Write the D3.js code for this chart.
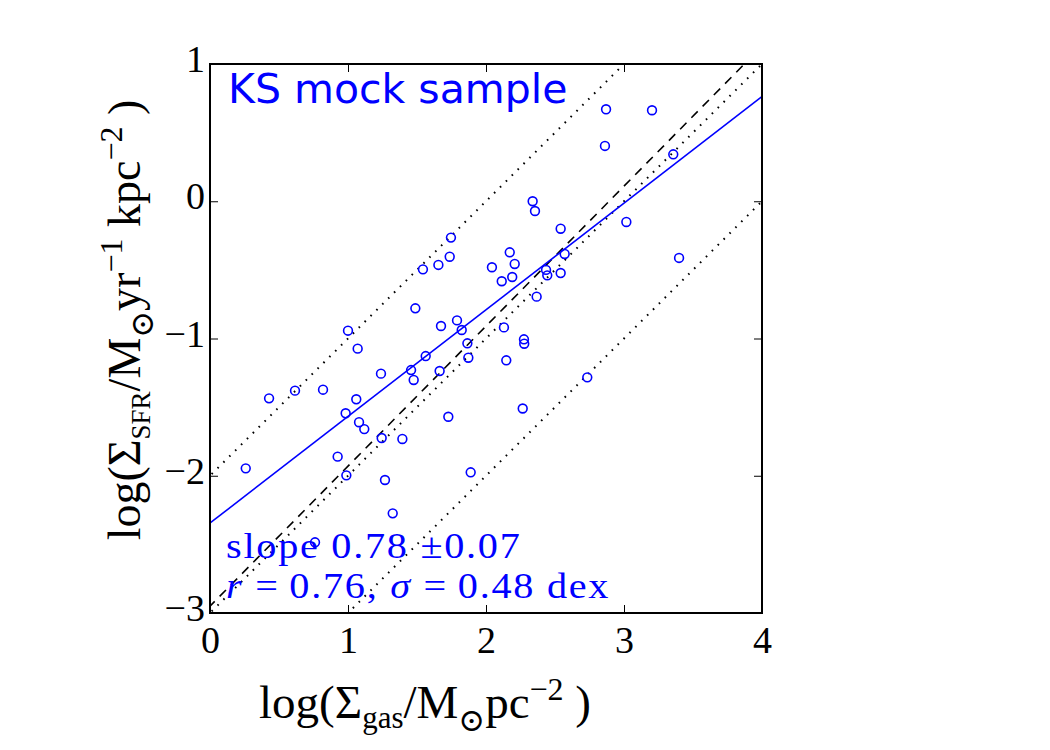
<!DOCTYPE html>
<html>
<head>
<meta charset="utf-8">
<script src="https://cdn.jsdelivr.net/npm/d3@7"></script>
<style>
  body { margin: 0; background: #fff; }
  svg { display: block; }
</style>
</head>
<body>
<div id="chart"></div>
<script>
// mock sample
const logGas = [0.259, 0.428, 0.616, 0.819, 1.0, 1.07, 1.239, 1.06, 0.983, 1.08,
  1.118, 1.244, 0.925, 0.988, 1.268, 0.761, 1.394, 1.727, 1.889, 1.324,
  2.266, 1.746, 1.737, 1.655, 1.543, 2.172, 2.043, 2.208, 2.114, 2.19,
  2.367, 1.488, 1.79, 1.674, 1.824, 2.13, 2.275, 2.277, 1.865, 1.563,
  1.872, 2.147, 1.457, 1.664, 1.476, 2.87, 3.203, 2.862, 3.357, 2.338,
  2.355, 2.541, 3.017, 2.57, 2.435, 2.444, 2.541, 3.399, 2.734]
const logSfr = [-1.946, -1.436, -1.38, -1.373, -0.943, -1.074, -1.256, -1.443, -1.545, -1.61,
  -1.66, -1.725, -1.861, -1.997, -2.031, -2.485, -1.732, -1.57, -1.975, -2.274,
  -1.51, -0.265, -0.404, -0.464, -0.496, -0.372, -0.481, -0.457, -0.583, -0.552,
  -0.695, -0.78, -0.868, -0.909, -0.938, -0.919, -1.006, -1.038, -1.035, -1.128,
  -1.14, -1.159, -1.23, -1.237, -1.302, 0.67, 0.663, 0.403, 0.342, 0.0,
  -0.071, -0.2, -0.151, -0.384, -0.5, -0.54, -0.523, -0.413, -1.283]

// lines: [slope, intercept]
const fitLine = [0.777, -2.345]
const ksLine = [1.02, -2.95]
const unitLines = [[1, -2], [1, -3], [1, -4]]

const xTicks = [0, 1, 2, 3, 4]
const yTicks = [-3, -2, -1, 0, 1]

const dims = {
  width: 1050,
  height: 750,
  margin: { top: 64, right: 288, bottom: 137, left: 210 }
}
dims.boundedWidth = dims.width - dims.margin.left - dims.margin.right
dims.boundedHeight = dims.height - dims.margin.top - dims.margin.bottom

const wrapper = d3.select("#chart").append("svg")
  .attr("width", dims.width)
  .attr("height", dims.height)

const bounds = wrapper.append("g")
  .attr("transform", `translate(${dims.margin.left},${dims.margin.top})`)

const xScale = d3.scaleLinear().domain([0, 4]).range([0, dims.boundedWidth])
const yScale = d3.scaleLinear().domain([-3, 1]).range([dims.boundedHeight, 0])

const serif = "'Liberation Serif', 'DejaVu Serif', serif"
const blue = "#0000ff"
const fmt = d => d < 0 ? "\u2212" + Math.abs(d) : String(d)

bounds.append("clipPath").attr("id", "clip")
  .append("rect")
  .attr("width", dims.boundedWidth)
  .attr("height", dims.boundedHeight)

const plot = bounds.append("g").attr("clip-path", "url(#clip)")

const lineGen = d3.line()
  .x(d => xScale(d[0]))
  .y(d => yScale(d[1]))
const endpoints = (p) => [-0.5, 4.5].map(x => [x, p[0] * x + p[1]])

// dotted +-1 dex lines
plot.selectAll(".unit")
  .data(unitLines)
  .join("path")
  .attr("d", d => lineGen(endpoints(d)))
  .attr("fill", "none")
  .attr("stroke", "#000")
  .attr("stroke-width", 2)
  .attr("stroke-dasharray", "1.6,6.7")

// dashed KS relation
plot.append("path")
  .attr("d", lineGen(endpoints(ksLine)))
  .attr("fill", "none")
  .attr("stroke", "#000")
  .attr("stroke-width", 1.6)
  .attr("stroke-dasharray", "9,7")

// fit
plot.append("path")
  .attr("d", lineGen(endpoints(fitLine)))
  .attr("fill", "none")
  .attr("stroke", blue)
  .attr("stroke-width", 1.6)

plot.selectAll("circle")
  .data(logGas)
  .join("circle")
  .attr("cx", d => xScale(d))
  .attr("cy", (d, i) => yScale(logSfr[i]))
  .attr("r", 4.4)
  .attr("fill", "none")
  .attr("stroke", blue)
  .attr("stroke-width", 1.6)

//---------------- axes, ticks pointing in on all four sides
const styleAxis = (g) => {
  g.select(".domain").remove()
  g.selectAll(".tick line").attr("stroke", "#000").attr("stroke-width", 1)
  g.selectAll(".tick text").attr("font-family", serif).attr("font-size", 38).attr("fill", "#000")
}

bounds.append("g")
  .attr("transform", `translate(0,${dims.boundedHeight})`)
  .call(d3.axisBottom(xScale).tickValues(xTicks).tickFormat(fmt).tickSize(-8).tickPadding(13))
  .call(styleAxis)

bounds.append("g")
  .call(d3.axisTop(xScale).tickValues(xTicks).tickFormat("").tickSize(-8))
  .call(styleAxis)

bounds.append("g")
  .call(d3.axisLeft(yScale).tickValues(yTicks).tickFormat(fmt).tickSize(-8).tickPadding(5))
  .call(styleAxis)
  .selectAll(".tick text").attr("dy", "0.2em")

bounds.append("g")
  .attr("transform", `translate(${dims.boundedWidth},0)`)
  .call(d3.axisRight(yScale).tickValues(yTicks).tickFormat("").tickSize(-8))
  .call(styleAxis)

bounds.append("rect")
  .attr("width", dims.boundedWidth)
  .attr("height", dims.boundedHeight)
  .attr("fill", "none")
  .attr("stroke", "#000")
  .attr("stroke-width", 2)

//---------------- labels
const xLabel = wrapper.append("text")
  .attr("x", 425)
  .attr("y", 718)
  .attr("text-anchor", "middle")
  .attr("font-family", serif)
  .attr("font-size", 47)
xLabel.append("tspan").text("log(\u03a3")
xLabel.append("tspan").attr("font-size", 31).attr("dy", 10).text("gas")
xLabel.append("tspan").attr("dy", -10).text("/M")
xLabel.append("tspan").attr("font-size", 32).attr("dy", 13).text("\u2299")
xLabel.append("tspan").attr("dy", -13).text("pc")
xLabel.append("tspan").attr("font-size", 32).attr("dy", -18).text("\u22122")
xLabel.append("tspan").attr("dy", 18).text(" )")

const yLabel = wrapper.append("text")
  .attr("transform", "translate(140,320) rotate(-90)")
  .attr("text-anchor", "middle")
  .attr("font-family", serif)
  .attr("font-size", 46)
yLabel.append("tspan").text("log(\u03a3")
yLabel.append("tspan").attr("font-size", 27).attr("dy", 10).text("SFR")
yLabel.append("tspan").attr("dy", -10).text("/M")
yLabel.append("tspan").attr("font-size", 32).attr("dy", 13).text("\u2299")
yLabel.append("tspan").attr("dy", -13).text("yr")
yLabel.append("tspan").attr("font-size", 32).attr("dy", -18).text("\u22121")
yLabel.append("tspan").attr("dy", 18).text(" kpc")
yLabel.append("tspan").attr("font-size", 32).attr("dy", -18).text("\u22122")
yLabel.append("tspan").attr("dy", 18).text(" )")

bounds.append("text")
  .attr("x", 18)
  .attr("y", 39)
  .attr("font-family", "'DejaVu Sans', sans-serif")
  .attr("font-size", 41)
  .attr("fill", blue)
  .text("KS mock sample")

// two lines of fit stats, stretched sideways to the wide look of the original
const statsStyle = (t) => t
  .attr("font-family", serif)
  .attr("font-size", 35)
  .attr("letter-spacing", 1.5)
  .attr("fill", blue)

bounds.append("g")
  .attr("transform", "translate(16,494) scale(1.15,1)")
  .append("text").call(statsStyle)
  .text(`slope ${fitLine[0].toFixed(2)} \u00b10.07`)

const line2 = bounds.append("g")
  .attr("transform", "translate(16,534) scale(1.15,1)")
  .append("text").call(statsStyle)
line2.append("tspan").attr("font-style", "italic").text("r")
line2.append("tspan").text(" =\u20090.76, ")
line2.append("tspan").attr("font-style", "italic").text("\u03c3")
line2.append("tspan").text(" =\u20090.48 dex")
</script>
</body>
</html>
